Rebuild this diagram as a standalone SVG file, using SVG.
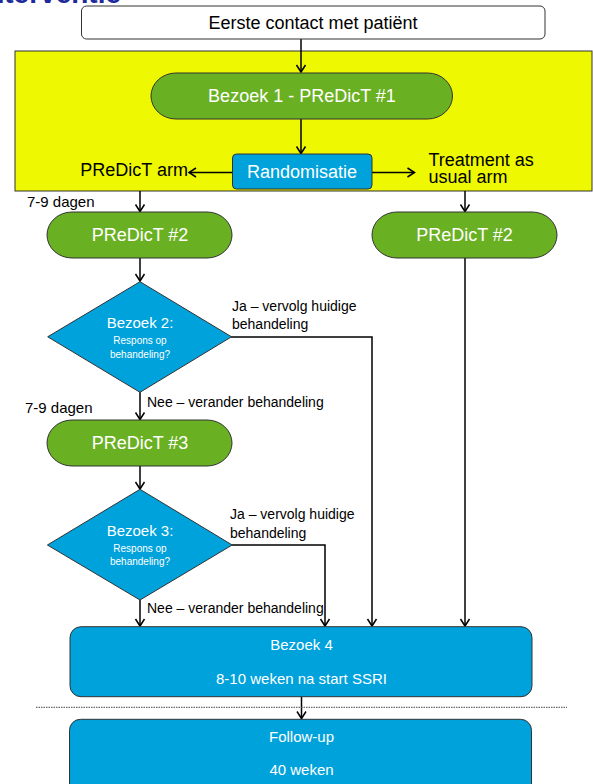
<svg xmlns="http://www.w3.org/2000/svg" width="593" height="784" viewBox="0 0 593 784">
<style>
.t{font-family:"Liberation Sans",Arial,Helvetica,sans-serif}
.w{fill:#ffffff}
.k{fill:#000000}
.m{text-anchor:middle}
.e{text-anchor:end}
.f18{font-size:18px}
.f15{font-size:15px}
.f14{font-size:14px}
.f10{font-size:10px}
.green{fill:#6ab023;stroke:#333333;stroke-width:1}
.blue{fill:#00a2dc;stroke:#333333;stroke-width:1}
.white{fill:#ffffff;stroke:#333333;stroke-width:1}
.c{fill:none;stroke:#000000;stroke-width:1.5}
</style>
<defs>
<marker id="ah" markerUnits="userSpaceOnUse" markerWidth="12" markerHeight="12" viewBox="0 0 12 12" refX="9" refY="6" orient="auto">
<path d="M2,1.5 L9,6 L2,10.5" fill="none" stroke="#000000" stroke-width="1.5"/>
</marker>
</defs>
<rect width="593" height="784" fill="#ffffff"/>
<text class="t" x="121" y="3" text-anchor="end" font-size="28" font-weight="bold" fill="#1e2a9a">Interventie</text>
<g id="phase1">
<rect x="15" y="51" width="577" height="140" fill="#eef800" stroke="#333333" stroke-width="1"/>
</g>
<g id="connectors">
<path class="c" d="M301,39 V72" marker-end="url(#ah)"/>
<path class="c" d="M301,119 V153.5" marker-end="url(#ah)"/>
<path class="c" d="M232.5,172.5 H189" marker-end="url(#ah)"/>
<path class="c" d="M372,172.5 H414.5" marker-end="url(#ah)"/>
<path class="c" d="M140,191 V211.5" marker-end="url(#ah)"/>
<path class="c" d="M465,191 V211.5" marker-end="url(#ah)"/>
<path class="c" d="M140,258 V281" marker-end="url(#ah)"/>
<path class="c" d="M140,392 V419.5" marker-end="url(#ah)"/>
<path class="c" d="M231,337 H372 V626" marker-end="url(#ah)"/>
<path class="c" d="M465,258 V626" marker-end="url(#ah)"/>
<path class="c" d="M140,466 V489" marker-end="url(#ah)"/>
<path class="c" d="M140,600 V626" marker-end="url(#ah)"/>
<path class="c" d="M232,545 H325 V626" marker-end="url(#ah)"/>
<path class="c" d="M301.5,696.5 V718.5" marker-end="url(#ah)"/>
<path d="M36,707.3 H567" fill="none" stroke="#444444" stroke-width="1" stroke-dasharray="1.5,1"/>
</g>
<g id="start">
<rect class="white" x="81.5" y="6" width="463.5" height="33" rx="5"/>
<text class="t k m f18" x="313" y="28.5">Eerste contact met patiënt</text>
</g>
<g id="bezoek1">
<rect class="green" x="151" y="73" width="301.5" height="46" rx="25" ry="23"/>
<text class="t w m f18" x="302" y="101.5">Bezoek 1 - PReDicT #1</text>
</g>
<g id="randomisatie">
<rect class="blue" x="232.5" y="154" width="139.5" height="35" rx="4"/>
<text class="t w m f18" x="302" y="177.5">Randomisatie</text>
</g>
<g id="label-arms">
<text class="t k e f18" x="188" y="176">PReDicT arm</text>
<text class="t k f18" x="428.5" y="165.8">Treatment as</text>
<text class="t k f18" x="428.5" y="182.5">usual arm</text>
</g>
<g id="predict2-left">
<text class="t k f15" x="27" y="207">7-9 dagen</text>
<rect class="green" x="47" y="212" width="185" height="46" rx="25" ry="23"/>
<text class="t w m f18" x="140" y="240.5">PReDicT #2</text>
</g>
<g id="predict2-right">
<rect class="green" x="372" y="212" width="185" height="46" rx="25" ry="23"/>
<text class="t w m f18" x="464.5" y="240.5">PReDicT #2</text>
</g>
<g id="bezoek2">
<polygon class="blue" points="140,281.7 231.5,336.8 140,392.3 47.7,336.8"/>
<text class="t w m f15" x="140" y="328">Bezoek 2:</text>
<text class="t w m f10" x="140" y="344">Respons op</text>
<text class="t w m f10" x="140" y="357.7">behandeling?</text>
<text class="t k f14" x="232" y="310.5">Ja – vervolg huidige</text>
<text class="t k f14" x="232" y="328.7">behandeling</text>
<text class="t k f14" x="147" y="407">Nee – verander behandeling</text>
</g>
<g id="predict3">
<text class="t k f15" x="25" y="413">7-9 dagen</text>
<rect class="green" x="47" y="420" width="185" height="46" rx="25" ry="23"/>
<text class="t w m f18" x="140" y="448.5">PReDicT #3</text>
</g>
<g id="bezoek3">
<polygon class="blue" points="140,489.3 232.2,545 140,600 47.4,545"/>
<text class="t w m f15" x="140" y="536">Bezoek 3:</text>
<text class="t w m f10" x="140" y="551.7">Respons op</text>
<text class="t w m f10" x="140" y="564.5">behandeling?</text>
<text class="t k f14" x="230" y="519.3">Ja – vervolg huidige</text>
<text class="t k f14" x="230" y="537.7">behandeling</text>
<text class="t k f14" x="147" y="612.7">Nee – verander behandeling</text>
</g>
<g id="bezoek4">
<rect class="blue" x="70" y="626.7" width="462" height="70" rx="11"/>
<text class="t w m f15" x="301.5" y="650">Bezoek 4</text>
<text class="t w m f15" x="301.5" y="683.5">8-10 weken na start SSRI</text>
</g>
<g id="followup">
<rect class="blue" x="69.5" y="719.3" width="462" height="80" rx="11"/>
<text class="t w m f15" x="301.5" y="741.5">Follow-up</text>
<text class="t w m f15" x="301.5" y="775">40 weken</text>
</g>
</svg>
